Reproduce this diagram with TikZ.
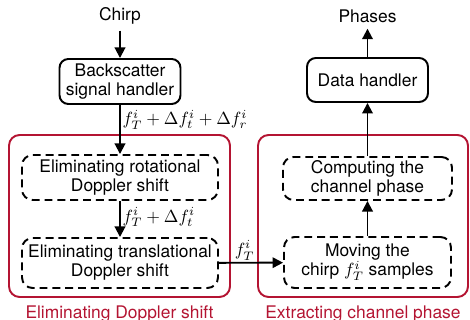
\documentclass[tikz,border=0pt]{standalone}
\usepackage[no-math]{fontspec}
\setmainfont{TeX Gyre Heros}
\usetikzlibrary{positioning}
\usetikzlibrary{arrows.meta}
\definecolor{groupred}{RGB}{180,20,50}
\begin{document}
\begin{tikzpicture}[x=0.02cm,y=-0.02cm,font=\fontsize{9.9}{10.8}\selectfont,
  handler/.style={draw,line width=1.1pt,rounded corners=5pt,align=center,minimum width=2.42cm,minimum height=0.9cm,inner sep=1pt},
  stage/.style={draw,line width=1.1pt,dash pattern=on 4.5pt off 2.8pt,rounded corners=6pt,align=center,inner sep=1pt},
  group/.style={draw=groupred,line width=1.1pt,rounded corners=6pt},
  grouplabel/.style={text=groupred},
  freq/.style={inner sep=1pt},
  flow/.style={-{Triangle[length=6pt,width=6pt]},line width=1.1pt}]
  \useasboundingbox (0,0) rectangle (470,320);
  \node[group,minimum width=4.42cm,minimum height=3.24cm] (elimgroup) at (119.5,216) {};
  \node[group,minimum width=4.2cm,minimum height=3.24cm] (extgroup) at (363,216) {};
  \node[grouplabel,below=1pt of elimgroup] (elimlabel) {Eliminating Doppler shift};
  \node[grouplabel,below=1pt of extgroup] (extlabel) {Extracting channel phase};
  \node (chirp) at (120,16) {Chirp};
  \node[handler] (backscatter) at (120,81.5) {Backscatter\\signal handler};
  \node[stage,minimum width=3.92cm,minimum height=0.9cm] (rotational) at (120,177.5) {Eliminating rotational\\Doppler shift};
  \node[stage,minimum width=3.92cm,minimum height=1cm] (translational) at (120,263) {Eliminating translational\\Doppler shift};
  \node[stage,minimum width=3.34cm,minimum height=1.02cm] (moving) at (367.5,262.5) {Moving the\\chirp $f_T^i$ samples};
  \node[stage,minimum width=3.38cm,minimum height=0.86cm] (computing) at (367.5,178.5) {Computing the\\channel phase};
  \node[handler,minimum height=0.88cm] (data) at (367.5,80) {Data handler};
  \node (phases) at (367.5,16) {Phases};
  \draw[flow] (chirp) -- (backscatter);
  \draw[flow] (backscatter) -- node[freq,right,pos=0.3] {$f_T^i+\Delta f_t^i+\Delta f_r^i$} (rotational);
  \draw[flow] (rotational) -- node[freq,right,pos=0.45] {$f_T^i+\Delta f_t^i$} (translational);
  \draw[flow] (translational) -- node[freq,above,pos=0.4] {$f_T^i$} (moving);
  \draw[flow] (moving) -- (computing);
  \draw[flow] (computing) -- (data);
  \draw[flow] (data) -- (phases);
\end{tikzpicture}
\end{document}
